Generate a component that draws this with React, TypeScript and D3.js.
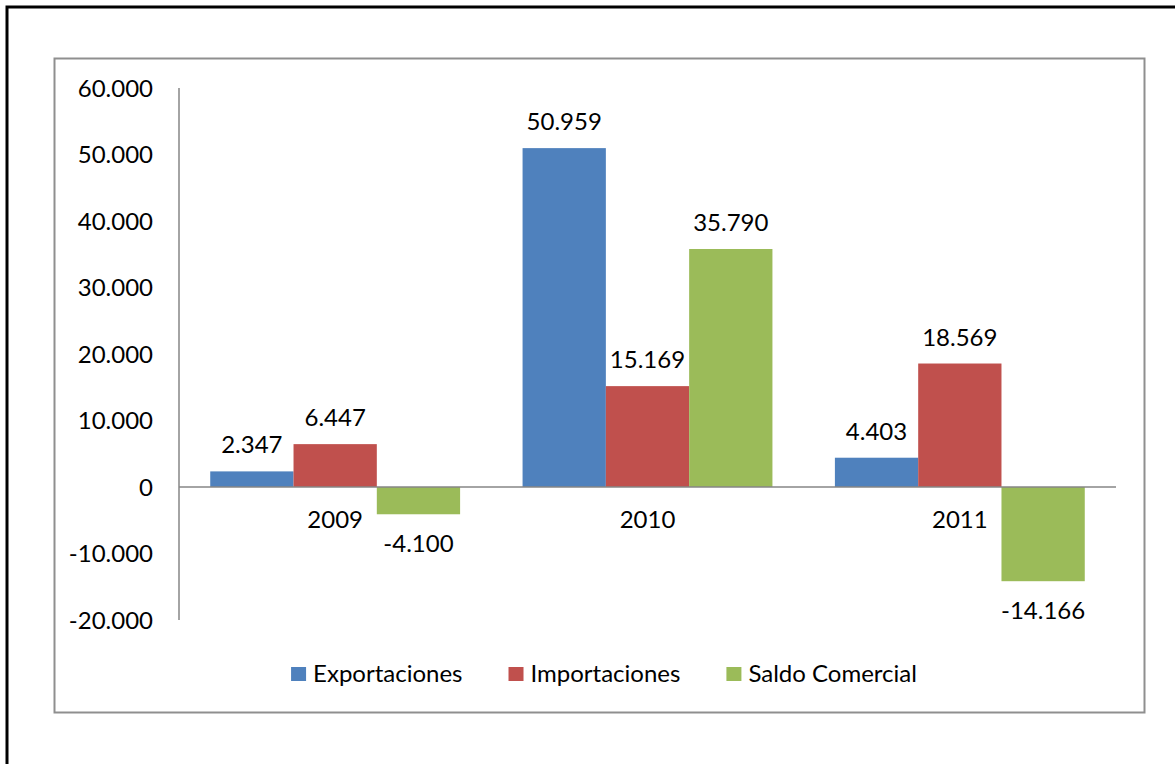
import React, { useEffect, useRef } from "react";
import * as d3 from "d3";

const categories = ["2009", "2010", "2011"];
const seriesNames = ["Exportaciones", "Importaciones", "Saldo Comercial"];
const exportaciones = [2347, 50959, 4403];
const importaciones = [6447, 15169, 18569];
const saldoComercial = [-4100, 35790, -14166];
const yTicks = [-20000, -10000, 0, 10000, 20000, 30000, 40000, 50000, 60000];
const colors = ["#4F81BD", "#C0504D", "#9BBB59"];

const W = 1175;
const H = 764;
const FONT = "Lato, 'Open Sans', sans-serif";
const FS = 24;

export default function App() {
  const ref = useRef<SVGSVGElement | null>(null);

  useEffect(() => {
    const svg = d3.select(ref.current);
    svg.selectAll("*").remove();

    const locale = d3.formatLocale({
      decimal: ",",
      thousands: ".",
      grouping: [3],
      currency: ["", ""],
      minus: "-",
    } as any);
    const fmt = locale.format(",.0f");

    // outer black border
    svg.append("rect").attr("x", 7).attr("y", 7).attr("width", W + 20).attr("height", H + 20)
      .attr("fill", "white").attr("stroke", "#000").attr("stroke-width", 3);

    // chart frame
    svg.append("rect").attr("x", 54.5).attr("y", 58.5).attr("width", 1090).attr("height", 654)
      .attr("fill", "white").attr("stroke", "#8f8f8f").attr("stroke-width", 2);

    const left = 179, right = 1116;
    const y = d3.scaleLinear().domain([-20000, 60000]).range([620, 88]);
    const x0 = d3.scaleBand<string>().domain(categories).range([left, right]).paddingInner(0).paddingOuter(0);
    const x1 = d3.scaleBand<string>().domain(seriesNames).range([0, x0.bandwidth()]).paddingInner(0).paddingOuter(0.375);

    const seriesValues = [exportaciones, importaciones, saldoComercial];
    const data = categories.flatMap((c, ci) =>
      seriesNames.map((s, si) => ({ c, s, si, v: seriesValues[si][ci] }))
    );

    // y axis labels
    const g = svg.append("g").attr("font-family", FONT).attr("font-size", FS).attr("fill", "#000");
    g.selectAll("text.ytick").data(yTicks).enter().append("text")
      .attr("x", 153).attr("y", (d) => y(d)).attr("dy", "0.36em").attr("text-anchor", "end")
      .text((d) => fmt(d));

    // bars
    svg.append("g").selectAll("rect").data(data).enter().append("rect")
      .attr("x", (d) => (x0(d.c) as number) + (x1(d.s) as number))
      .attr("width", x1.bandwidth())
      .attr("y", (d) => y(Math.max(0, d.v)))
      .attr("height", (d) => Math.abs(y(d.v) - y(0)))
      .attr("fill", (d) => colors[d.si]);

    // axes lines
    svg.append("line").attr("x1", left).attr("x2", left).attr("y1", y(60000)).attr("y2", y(-20000))
      .attr("stroke", "#868686").attr("stroke-width", 1.5);
    svg.append("line").attr("x1", left).attr("x2", right).attr("y1", y(0)).attr("y2", y(0))
      .attr("stroke", "#868686").attr("stroke-width", 1.5);

    // category labels
    g.selectAll("text.cat").data(categories).enter().append("text")
      .attr("x", (d) => (x0(d) as number) + x0.bandwidth() / 2)
      .attr("y", y(0) + 41).attr("text-anchor", "middle").text((d) => d);

    // data labels
    g.selectAll("text.val").data(data).enter().append("text")
      .attr("x", (d) => (x0(d.c) as number) + (x1(d.s) as number) + x1.bandwidth() / 2)
      .attr("y", (d) => (d.v >= 0 ? y(d.v) - 18 : y(d.v) + 38))
      .attr("text-anchor", "middle").text((d) => fmt(d.v));

    // legend
    const lg = svg.append("g").attr("font-family", FONT).attr("font-size", FS);
    const items = seriesNames.map((name, i) => {
      const it = lg.append("g");
      it.append("rect").attr("x", 0).attr("y", -15).attr("width", 15).attr("height", 14).attr("fill", colors[i]);
      const t = it.append("text").attr("x", 22).attr("y", 0).text(name);
      const w = 22 + (t.node() as SVGTextElement).getComputedTextLength();
      return { it, w };
    });
    const gap = 46;
    const total = d3.sum(items, (d) => d.w) + gap * (items.length - 1);
    let cx = 604 - total / 2;
    items.forEach(({ it, w }) => {
      it.attr("transform", `translate(${cx},682)`);
      cx += w + gap;
    });
  }, []);

  return (
    <svg ref={ref} width={W} height={H}
      style={{ position: "absolute", left: 0, top: 0, display: "block", background: "white" }} />
  );
}
